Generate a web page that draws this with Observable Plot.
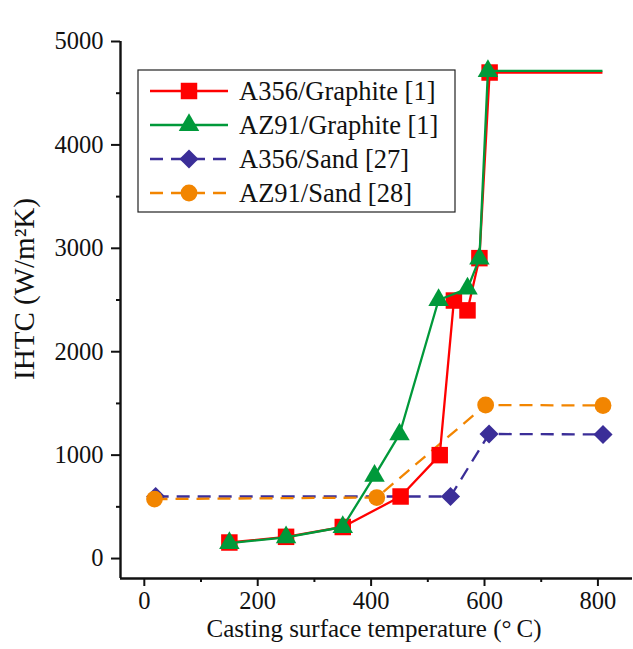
<!DOCTYPE html>
<html>
<head>
<meta charset="utf-8">
<script src="https://cdn.jsdelivr.net/npm/d3@7"></script>
<script src="https://cdn.jsdelivr.net/npm/@observablehq/plot@0.6"></script>
<style>
  html, body { margin: 0; padding: 0; background: #fff; }
  #chart { width: 633px; height: 649px; }
  #chart svg, #chart svg text { font-family: "Liberation Serif", "Times New Roman", serif !important; }
</style>
</head>
<body>
<div id="chart"></div>
<script>
// ---- data ----
const seriesNames = ["A356/Graphite [1]", "AZ91/Graphite [1]", "A356/Sand [27]", "AZ91/Sand [28]"];

const xA356Graphite = [150, 250, 350, 452, 521, 546, 570, 591, 609, 808];
const yA356Graphite = [155, 210, 305, 600, 1000, 2495, 2400, 2905, 4700, 4700];

const xAZ91Graphite = [150, 250, 350, 406, 450, 519, 570, 591, 606, 808];
const yAZ91Graphite = [150, 205, 305, 800, 1200, 2500, 2610, 2900, 4715, 4715];

const xA356Sand = [20, 540, 608, 809];
const yA356Sand = [600, 600, 1205, 1200];

const xAZ91Sand = [18, 410, 602, 809];
const yAZ91Sand = [575, 590, 1485, 1480];

const xTicks = [0, 200, 400, 600, 800];
const xMinorTicks = [100, 300, 500, 700];
const yTicks = [0, 1000, 2000, 3000, 4000, 5000];
const yMinorTicks = [500, 1500, 2500, 3500, 4500];
const xDomain = [-42, 861];
const yDomain = [-193, 5000];

const xLabel = "Casting surface temperature (\u00B0\u2009C)";
const yLabel = "IHTC (W/m\u00B2K)";

// ---- styles ----
const FONT = "Liberation Serif";
const styles = [
  {color: "#ff0000", symbol: "square", r: 9.3, dash: null},
  {color: "#00993a", symbol: "triangle", r: 7.6, dash: null},
  {color: "#3b2e98", symbol: "diamond2", r: 8.6, dash: "13,8"},
  {color: "#f28500", symbol: "circle", r: 8.4, dash: "13,8"}
];

const rows = (xs, ys) => xs.map((x, i) => ({x, y: ys[i]}));
const data = [
  rows(xA356Graphite, yA356Graphite),
  rows(xAZ91Graphite, yAZ91Graphite),
  rows(xA356Sand, yA356Sand),
  rows(xAZ91Sand, yAZ91Sand)
];
// graphite curves end with an unmarked line segment
const markerData = [data[0].slice(0, -1), data[1].slice(0, -1), data[2], data[3]];

const drawOrder = [2, 3, 0, 1];
const seriesMarks = [];
for (const k of drawOrder) {
  const s = styles[k];
  seriesMarks.push(Plot.line(data[k], {x: "x", y: "y", stroke: s.color, strokeWidth: 2.3,
    strokeDasharray: s.dash, strokeLinecap: "butt"}));
  seriesMarks.push(Plot.dot(markerData[k], {x: "x", y: "y", symbol: () => s.symbol, r: s.r,
    fill: s.color, stroke: "none"}));
}

const tickFont = 24.5;
const titleFont = 25;
const legendFont = 26.5;
const fmt = d => String(d);
const plot = Plot.plot({
  width: 633,
  height: 649,
  marginLeft: 120,
  marginRight: 1,
  marginTop: 41,
  marginBottom: 71,
  style: {fontFamily: FONT, fontSize: tickFont + "px", color: "#111", background: "#fff", overflow: "visible"},
  x: {domain: xDomain},
  y: {domain: yDomain},
  symbol: {type: "identity"},
  marks: [
    ...seriesMarks,
    Plot.axisX(xTicks, {tickSize: 8, tickPadding: 5, strokeWidth: 2, fontSize: tickFont, fontFamily: FONT, tickFormat: fmt, label: null}),
    Plot.axisX(xMinorTicks, {tickSize: 4, strokeWidth: 2, text: null, label: null}),
    Plot.axisY(yTicks, {tickSize: 9, tickPadding: 8, strokeWidth: 2, fontSize: tickFont, fontFamily: FONT, tickFormat: fmt, label: null}),
    Plot.axisY(yMinorTicks, {tickSize: 4, strokeWidth: 2, text: null, label: null}),
    Plot.ruleY([yDomain[0]], {stroke: "#111", strokeWidth: 2.4}),
    Plot.ruleX([xDomain[0]], {stroke: "#111", strokeWidth: 2.4}),
    Plot.text([xLabel], {frameAnchor: "bottom", textAnchor: "middle", lineAnchor: "middle", dy: 50, dx: -2.5,
      fontSize: titleFont, fontFamily: FONT, fill: "#111"}),
    Plot.text([yLabel], {frameAnchor: "left", textAnchor: "middle", lineAnchor: "middle", dx: -96, dy: -21, rotate: -90,
      fontSize: 29, fontFamily: FONT, fill: "#111"})
  ]
});
document.getElementById("chart").appendChild(plot);

// ---- legend (drawn into the plot's SVG) ----
const svg = d3.select(plot.tagName.toLowerCase() === "svg" ? plot : plot.querySelector("svg"));
const lg = svg.append("g").attr("transform", "translate(138,70)");
lg.append("rect").attr("width", 317).attr("height", 142)
  .attr("fill", "#fff").attr("stroke", "#222").attr("stroke-width", 1.2);
const symbolMap = {square: d3.symbolSquare, triangle: d3.symbolTriangle, diamond2: d3.symbolDiamond2, circle: d3.symbolCircle};
seriesNames.forEach((name, i) => {
  const s = styles[i];
  const yy = 21 + i * 34;
  lg.append("line").attr("x1", 12).attr("x2", 90).attr("y1", yy).attr("y2", yy)
    .attr("stroke", s.color).attr("stroke-width", 2.3)
    .attr("stroke-dasharray", s.dash ? "13,8" : null);
  lg.append("path").attr("transform", `translate(51,${yy})`)
    .attr("d", d3.symbol(symbolMap[s.symbol], Math.PI * s.r * s.r)())
    .attr("fill", s.color);
  lg.append("text").attr("x", 101).attr("y", yy).attr("dy", "0.34em")
    .attr("text-anchor", "start")
    .style("font-family", "'Liberation Serif', serif")
    .style("font-size", legendFont + "px")
    .attr("fill", "#111").text(name);
});
</script>
</body>
</html>
